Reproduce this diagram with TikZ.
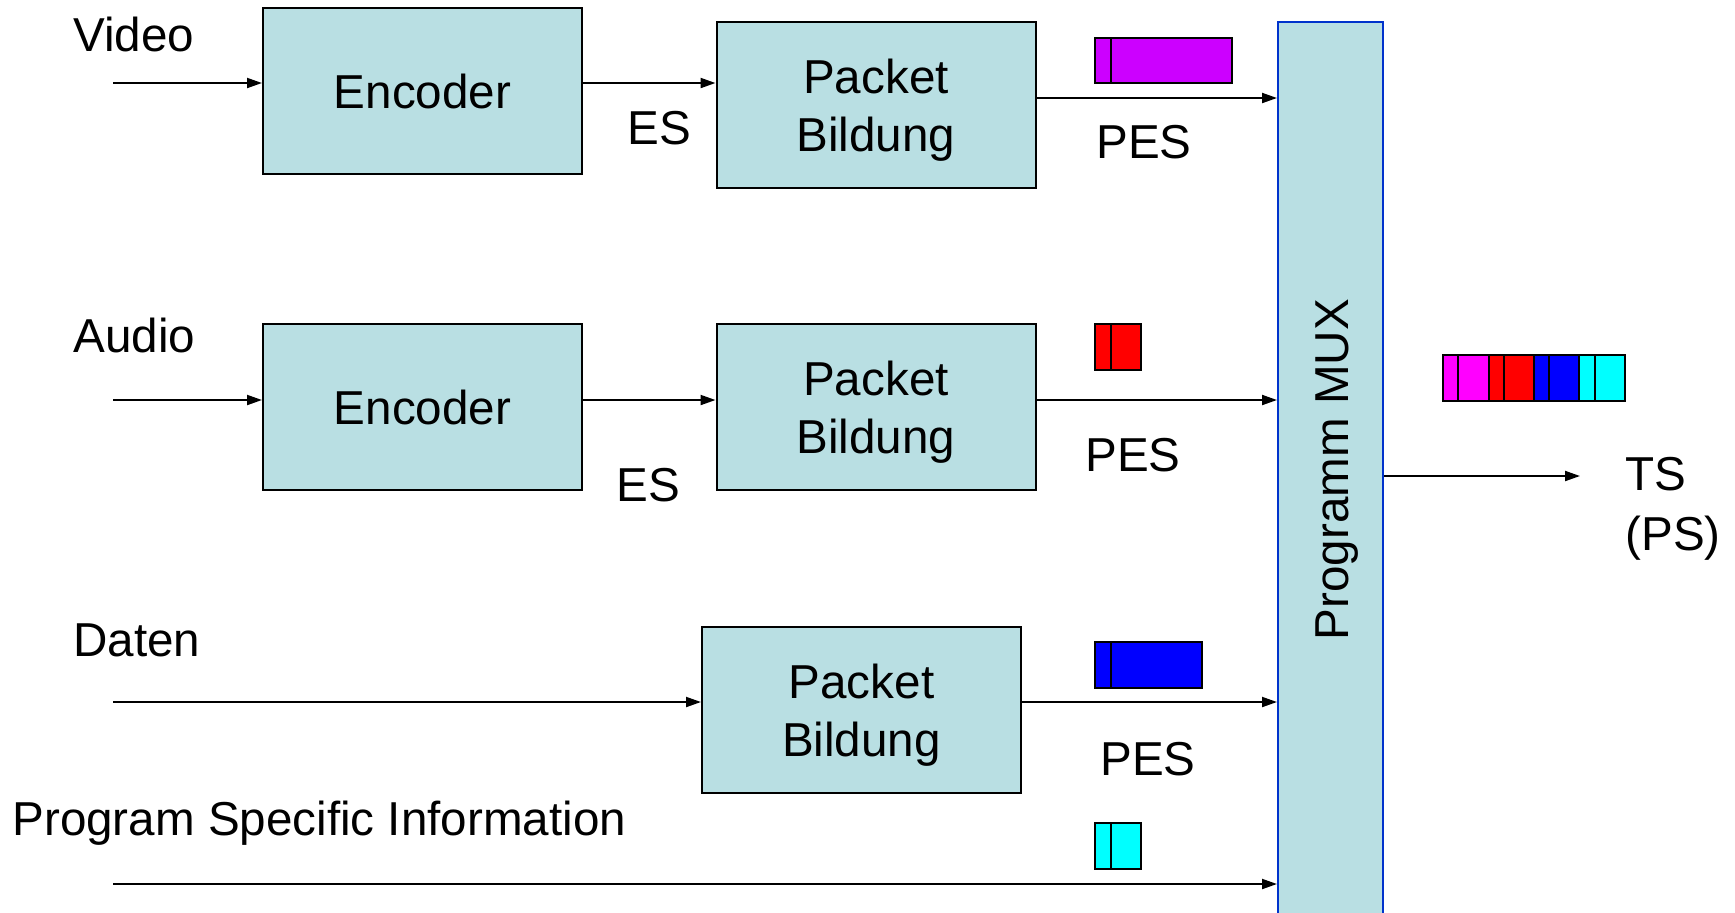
\documentclass[tikz,border=0pt]{standalone}
\usepackage{fontspec}
\setmainfont{Liberation Sans}
\usetikzlibrary{arrows.meta}
\definecolor{boxfill}{RGB}{185,223,227}
\definecolor{muxblue}{RGB}{0,51,204}
\definecolor{purp}{RGB}{204,0,255}
\definecolor{mag}{RGB}{255,0,255}
\definecolor{pred}{RGB}{255,0,0}
\definecolor{pblue}{RGB}{0,0,255}
\definecolor{pcyan}{RGB}{0,255,255}
\begin{document}
\begin{tikzpicture}[x=0.5pt,y=-0.5pt,
  every node/.style={font=\fontsize{23.8}{29}\selectfont},
  blk/.style={draw, line width=1pt, fill=boxfill, minimum width=159.5pt, minimum height=83pt, align=center, inner sep=0pt, text depth=0pt},
  arr/.style={line width=1pt, -{Triangle[length=7.5pt,width=5pt]}},
  lbl/.style={inner sep=0pt, anchor=base west},
  clbl/.style={inner sep=0pt, anchor=base},
  pkt/.style={draw, line width=1.3pt}]
\useasboundingbox (0,0) rectangle (1735,912);

% blocks
\node[blk] (enc1) at (422.5,91) {Encoder};
\node[blk] (pk1) at (876,105) {Packet\\Bildung};
\node[blk] (enc2) at (422.5,407) {Encoder};
\node[blk] (pk2) at (876,407) {Packet\\Bildung};
\node[blk] (pk3) at (861.5,710) {Packet\\Bildung};
\node[draw=muxblue, line width=1pt, fill=boxfill, minimum width=52.5pt, minimum height=449pt, inner sep=0pt] (mux) at (1330.5,471) {};
\node[rotate=90, anchor=base, inner sep=0pt] (muxlbl) at (1348,469.5) {Programm MUX};

% input / output points
\coordinate (vin) at (113,83);
\coordinate (ain) at (113,400);
\coordinate (din) at (113,702);
\coordinate (pin) at (113,884);
\coordinate (tsout) at (1580,476);

% connectors
\draw[arr] (vin) -- (enc1.west |- vin);
\draw[arr] (enc1.east |- vin) -- (pk1.west |- vin);
\draw[arr] ([yshift=3.5pt]pk1.east) coordinate (a1) -- (a1 -| mux.west);
\draw[arr] (ain) -- (enc2.west |- ain);
\draw[arr] (enc2.east |- ain) -- (pk2.west |- ain);
\draw[arr] (pk2.east |- ain) -- (mux.west |- ain);
\draw[arr] (din) -- (pk3.west |- din);
\draw[arr] (pk3.east |- din) -- (mux.west |- din);
\draw[arr] (pin) -- (mux.west |- pin);
\draw[arr] (mux.east |- tsout) -- (tsout);

% labels
\node[lbl] (lv) at (73,51) {Video};
\node[lbl] (la) at (73,352) {Audio};
\node[lbl] (ld) at (73,656) {Daten};
\node[lbl] (lp) at (12,835) {Program Specific Information};
\node[clbl] (es1) at (659,144) {ES};
\node[clbl] (es2) at (648,501) {ES};
\node[clbl] (pes1) at (1144,158) {PES};
\node[clbl] (pes2) at (1133,471) {PES};
\node[clbl] (pes3) at (1148,775) {PES};
\node[lbl] (ts) at (1625,490) {TS};
\node[lbl] (ps) at (1625,550) {(PS)};

% packets
\filldraw[pkt, fill=purp] (1095,38) rectangle (1232,83);
\draw[pkt] (1111,38) -- (1111,83);
\filldraw[pkt, fill=pred] (1095,324) rectangle (1141,370);
\draw[pkt] (1111,324) -- (1111,370);
\filldraw[pkt, fill=pblue] (1095,642) rectangle (1202,688);
\draw[pkt] (1111,642) -- (1111,688);
\filldraw[pkt, fill=pcyan] (1095,823) rectangle (1141,869);
\draw[pkt] (1111,823) -- (1111,869);

% transport stream strip
\fill[mag] (1443,355) rectangle (1489,401);
\fill[pred] (1489,355) rectangle (1534,401);
\fill[pblue] (1534,355) rectangle (1579,401);
\fill[pcyan] (1579,355) rectangle (1625,401);
\draw[pkt] (1443,355) rectangle (1625,401);
\foreach \xx in {1458,1489,1504,1534,1549,1579,1595}
  \draw[pkt] (\xx,355) -- (\xx,401);
\end{tikzpicture}
\end{document}
